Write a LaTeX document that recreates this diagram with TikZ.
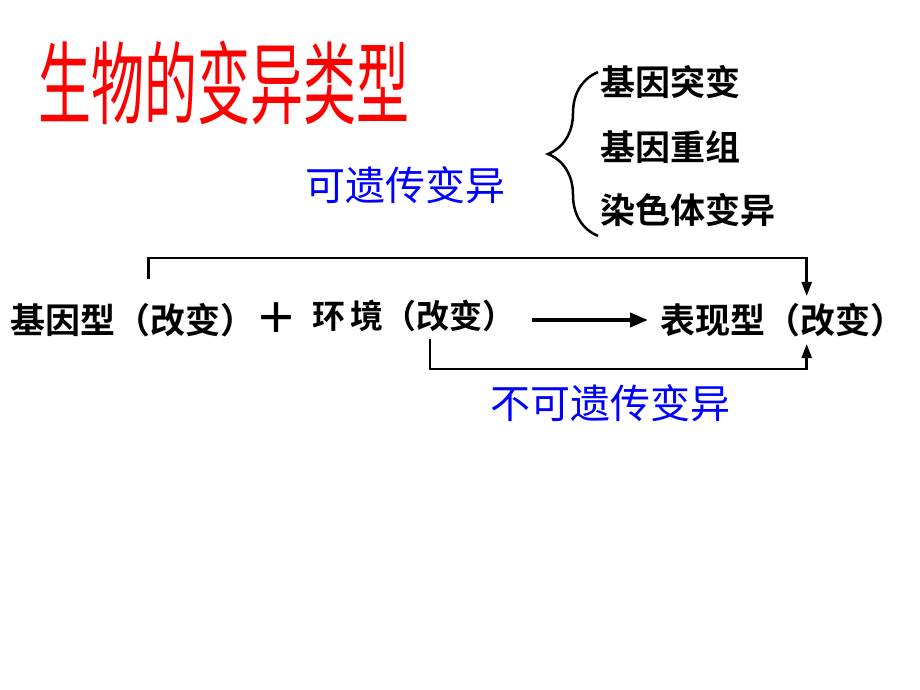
\documentclass[tikz,border=0pt]{standalone}
\usepackage{fontspec}
\setmainfont{Noto Sans CJK SC}[BoldFont={Noto Sans CJK SC Bold}]
\usetikzlibrary{positioning}
\usetikzlibrary{arrows.meta, decorations.pathreplacing}

\begin{document}
\begin{tikzpicture}[x=1pt, y=-1pt]
        % Define styles for texts and lines
        \tikzstyle{word} = [anchor=west, inner sep=0pt, font=\fontsize{35}{35}\selectfont\bfseries]
        \tikzstyle{blueword} = [anchor=west, inner sep=0pt, text=blue, font=\fontsize{40}{40}\selectfont]
        \tikzstyle{conn} = [line width=2.5pt, -{Triangle[length=14pt, width=10pt]}]
        \useasboundingbox (0,0) rectangle (920,690);
        % Title
        \node[anchor=west, inner sep=0pt, text=red, yscale=1.7,
              font=\fontsize{53}{53}\selectfont] (title) at (38, 83) {生物的变异类型};
        % Heritable variation and its three kinds
        \node[word] (mutation) at (600, 82) {基因突变};
        \node[word] (recomb) at (600, 147) {基因重组};
        \node[word] (chrom) at (600, 210) {染色体变异};
        \node[blueword] (herit) at (305, 185) {可遗传变异};
        % Row of genotype, environment, phenotype
        \node[word] (geno) at (10, 320) {基因型（改变）};
        \node[inner sep=0pt, font=\fontsize{42}{42}\selectfont\bfseries] (plus) at (276, 318) {＋};
        \node[word, font=\fontsize{33}{33}\selectfont\bfseries] (env) at (312, 316) {环\,境（改变）};
        \node[word] (pheno) at (660, 320) {表现型（改变）};
        \node[blueword] (nonherit) at (490, 403) {不可遗传变异};

        % Draw brace
        \draw[line width=2.5pt, decorate, decoration={brace, amplitude=50pt}]
            ([xshift=-2pt, yshift=-9pt]chrom.south west) -- ([xshift=-2pt, yshift=-7pt]mutation.north west);
        % Draw arrows
        \draw[line width=4pt, -{Triangle[length=18pt, width=14pt]}] (env.east |- pheno.west) ++(16pt, 0)
            -- ([xshift=-12pt]pheno.west);
        \draw[conn] ([xshift=16pt, yshift=24pt]geno.north) -- ++(0, 21pt) -| ([xshift=24pt, yshift=7pt]pheno.north);
        % line from environment to phenotype below the row
        \draw[conn] ([xshift=16pt, yshift=-7pt]env.south) -- ++(0, -30pt) -| ([xshift=24pt, yshift=-7pt]pheno.south);
    \end{tikzpicture}
\end{document}
